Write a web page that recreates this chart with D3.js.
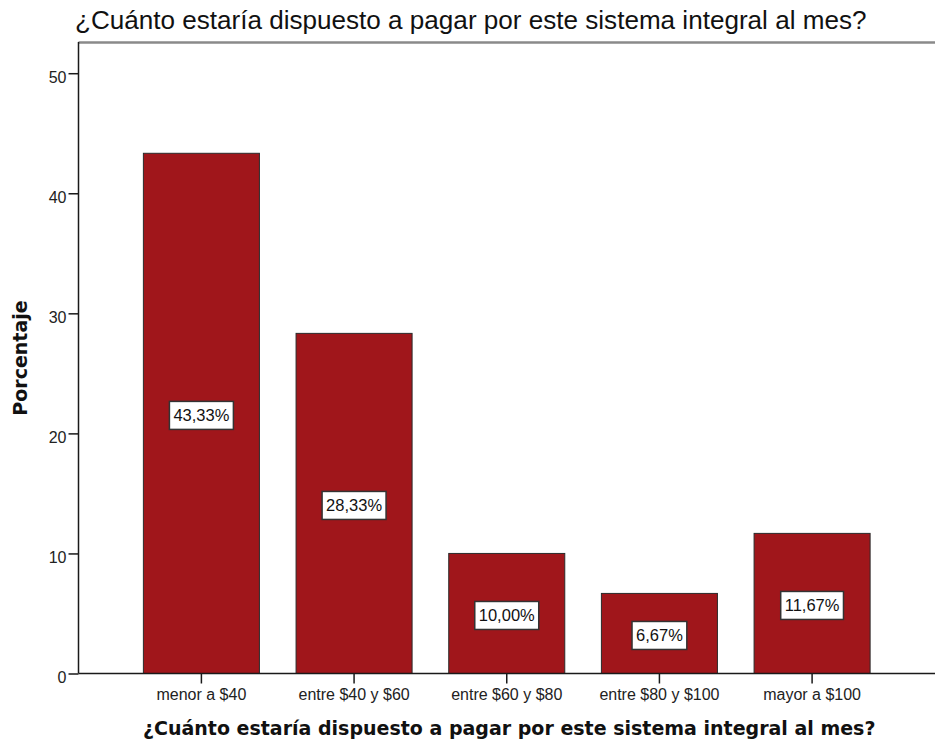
<!DOCTYPE html>
<html>
<head>
<meta charset="utf-8">
<script src="https://cdn.jsdelivr.net/npm/d3@7"></script>
<style>
  body { margin: 0; background: #fff; }
  svg { display: block; }
</style>
</head>
<body>
<svg id="chart"></svg>
<script>
// Chart data
const categories = ["menor a $40", "entre $40 y $60", "entre $60 y $80", "entre $80 y $100", "mayor a $100"];
const percentages = [43.33, 28.33, 10.00, 6.67, 11.67];
const yTicks = [0, 10, 20, 30, 40, 50];
const titleText = "¿Cuánto estaría dispuesto a pagar por este sistema integral al mes?";
const yAxisTitle = "Porcentaje";

const width = 935;
const height = 744;
const plot = { left: 78.5, right: 935, top: 42, bottom: 673.5 };

const svg = d3.select("#chart")
    .attr("width", width)
    .attr("height", height);

// Scales
const x = d3.scaleBand()
    .domain(categories)
    .range([plot.left, plot.right])
    .paddingInner(0.24)
    .paddingOuter(0.425);

const y = d3.scaleLinear()
    .domain([0, 52.6])
    .range([plot.bottom, plot.top]);

// make text fit a measured width
function fitWidth(sel, target) {
    const w = sel.node().getComputedTextLength();
    const fs = parseFloat(sel.attr("font-size"));
    sel.attr("font-size", fs * target / w);
}

// Title
const title = svg.append("text")
    .attr("x", 75)
    .attr("y", 29)
    .attr("font-family", "'Liberation Sans', Arial, sans-serif")
    .attr("font-size", 26)
    .attr("fill", "#111")
    .text(titleText);
fitWidth(title, 792);

// Frame top line
svg.append("line")
    .attr("x1", plot.left).attr("x2", plot.right)
    .attr("y1", plot.top + 0.5).attr("y2", plot.top + 0.5)
    .attr("stroke", "#8a8a8a")
    .attr("stroke-width", 2.5);

// Bars
svg.append("g")
    .selectAll("rect")
    .data(percentages)
    .join("rect")
    .attr("x", (d, i) => x(categories[i]))
    .attr("y", d => y(d))
    .attr("width", x.bandwidth())
    .attr("height", d => y(0) - y(d))
    .attr("fill", "#a0161b")
    .attr("stroke", "#2b2b2b")
    .attr("stroke-width", 1);

// Y axis
const yAxis = svg.append("g")
    .attr("transform", `translate(${plot.left},0)`)
    .call(d3.axisLeft(y).tickValues(yTicks).tickSize(10).tickPadding(2).tickSizeOuter(0));
yAxis.select(".domain").remove();
yAxis.append("line")
    .attr("x1", 0).attr("x2", 0)
    .attr("y1", plot.top).attr("y2", plot.bottom)
    .attr("stroke", "#1a1a1a")
    .attr("stroke-width", 1.5);
yAxis.selectAll(".tick line").attr("stroke", "#1a1a1a").attr("stroke-width", 1.5);
yAxis.selectAll(".tick text")
    .attr("font-family", "'Liberation Sans', Arial, sans-serif")
    .attr("font-size", 16)
    .attr("fill", "#222")
    .attr("dy", "0.55em");

// X axis
const xAxis = svg.append("g")
    .attr("transform", `translate(0,${plot.bottom})`)
    .call(d3.axisBottom(x).tickSize(10).tickPadding(5).tickSizeOuter(0));
xAxis.select(".domain").remove();
xAxis.append("line")
    .attr("x1", plot.left).attr("x2", plot.right)
    .attr("y1", 0).attr("y2", 0)
    .attr("stroke", "#1a1a1a")
    .attr("stroke-width", 1.5);
xAxis.selectAll(".tick line").attr("stroke", "#1a1a1a").attr("stroke-width", 1.5);
xAxis.selectAll(".tick text")
    .attr("font-family", "'Liberation Sans', Arial, sans-serif")
    .attr("font-size", 16)
    .attr("fill", "#222");

// Value labels
const labels = svg.append("g")
    .selectAll("g")
    .data(percentages)
    .join("g")
    .attr("transform", (d, i) => `translate(${x(categories[i]) + x.bandwidth() / 2},${y(d / 2) + 2})`);

labels.append("text")
    .attr("text-anchor", "middle")
    .attr("dy", "0.36em")
    .attr("font-family", "'Liberation Sans', Arial, sans-serif")
    .attr("font-size", 16.5)
    .attr("fill", "#111")
    .text(d => d.toFixed(2).replace(".", ",") + "%");

labels.each(function() {
    const g = d3.select(this);
    const w = g.select("text").node().getComputedTextLength() + 8;
    g.insert("rect", "text")
        .attr("x", -w / 2)
        .attr("y", -14)
        .attr("width", w)
        .attr("height", 28)
        .attr("fill", "#fff")
        .attr("stroke", "#333")
        .attr("stroke-width", 1.5);
});

// Axis titles
const xTitle = svg.append("text")
    .attr("x", 143)
    .attr("y", 735)
    .attr("font-family", "'DejaVu Sans', Verdana, sans-serif")
    .attr("font-weight", "bold")
    .attr("font-size", 18)
    .attr("fill", "#111")
    .text(titleText);
fitWidth(xTitle, 733);

svg.append("text")
    .attr("transform", `translate(27,358) rotate(-90)`)
    .attr("text-anchor", "middle")
    .attr("font-family", "'DejaVu Sans', Verdana, sans-serif")
    .attr("font-weight", "bold")
    .attr("font-size", 19)
    .attr("fill", "#111")
    .text(yAxisTitle);
</script>
</body>
</html>
